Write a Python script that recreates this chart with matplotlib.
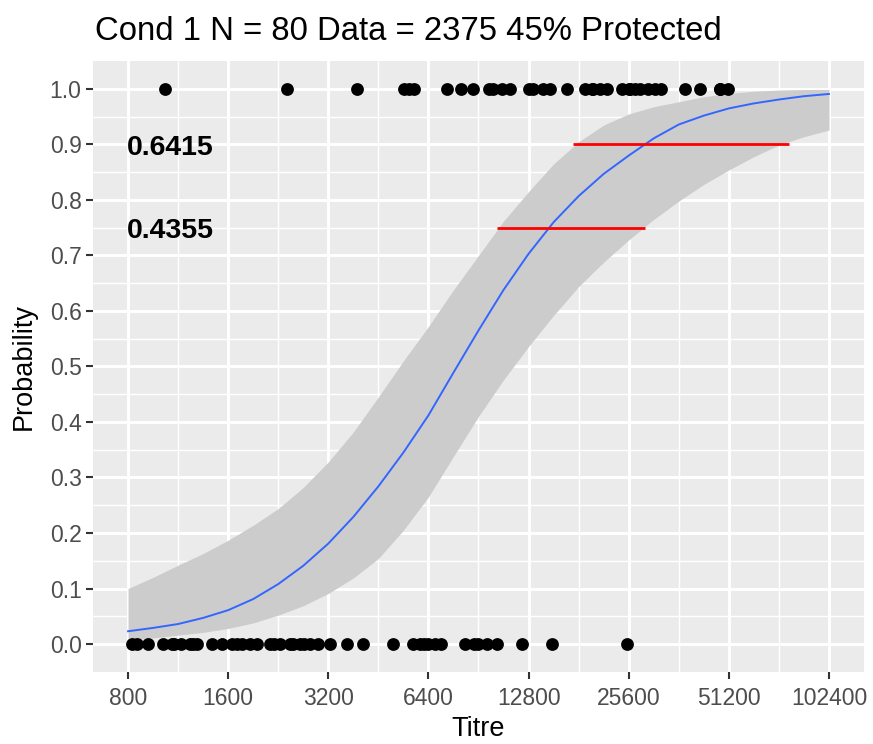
#!/usr/bin/env python
# coding: utf-8

import numpy as np
import matplotlib
matplotlib.use('Agg')
import matplotlib.pyplot as plt
from matplotlib.ticker import FixedLocator, NullFormatter

plt.rcParams['font.family'] = ['Liberation Sans', 'DejaVu Sans']

# observed titres, split by outcome
titre_protected = [1030, 2400, 3900, 5400, 5600, 5800, 7300, 8000, 8700, 9700,
                   10000, 10660, 11270, 12800, 13210, 14160, 14870, 16730, 18940, 19880,
                   20000, 21010, 22060, 24470, 25600, 25870, 26800, 27730, 29310, 30760,
                   32000, 37860, 42000, 48000, 48240, 50960]
titre_unprotected = [822, 850, 919, 1019, 1085, 1100, 1154, 1229, 1250, 1290,
                     1431, 1533, 1643, 1700, 1761, 1861, 1954, 2139, 2200, 2293,
                     2456, 2500, 2632, 2700, 2820, 2981, 3240, 3645, 4072, 5010,
                     5755, 6040, 6200, 6387, 6703, 6988, 8254, 8800, 9032, 9613,
                     10300, 12250, 15070, 25360]

# fitted curve and its confidence band
fit_titre = [800, 951, 1131, 1345, 1600, 1903, 2263, 2691, 3200, 3806,
             4525, 5382, 6400, 7611, 9051, 10764, 12800, 15222, 18102, 21527,
             25600, 30444, 36204, 43053, 51200, 60887, 72408, 86108, 102400]
fit_prob = [0.023, 0.029, 0.036, 0.047, 0.061, 0.081, 0.108, 0.141, 0.181, 0.229,
            0.284, 0.345, 0.412, 0.489, 0.565, 0.638, 0.703, 0.760, 0.807, 0.847,
            0.880, 0.911, 0.936, 0.952, 0.965, 0.974, 0.981, 0.987, 0.991]
band_lower = [0.007, 0.011, 0.016, 0.021, 0.028, 0.038, 0.052, 0.069, 0.091, 0.119,
              0.154, 0.205, 0.265, 0.338, 0.410, 0.476, 0.536, 0.592, 0.644, 0.688,
              0.728, 0.765, 0.798, 0.828, 0.854, 0.878, 0.899, 0.914, 0.926]
band_upper = [0.100, 0.120, 0.142, 0.163, 0.187, 0.214, 0.244, 0.282, 0.328, 0.382,
              0.445, 0.510, 0.572, 0.638, 0.700, 0.762, 0.815, 0.865, 0.905, 0.935,
              0.955, 0.968, 0.977, 0.986, 0.992, 0.996, 0.998, 0.999, 0.999]

# protection levels with titre intervals
level_prob = [0.9, 0.75]
level_lo = [17440, 10300]
level_hi = [77780, 28700]
level_text = ['0.6415', '0.4355']

title = 'Cond 1 N = 80 Data = 2375 45% Protected'
x_ticks = [800, 1600, 3200, 6400, 12800, 25600, 51200, 102400]
y_ticks = [0.0, 0.1, 0.2, 0.3, 0.4, 0.5, 0.6, 0.7, 0.8, 0.9, 1.0]

fig = plt.figure(figsize=(8.73, 7.44), dpi=100)
ax = fig.add_axes([93/873, 0.0971, 771/873, 0.8206])
ax.set_facecolor('#EBEBEB')

ax.set_xscale('log', base=2)
lo2, hi2 = np.log2(800), np.log2(102400)
pad = 0.05 * (hi2 - lo2)
ax.set_xlim(2**(lo2 - pad), 2**(hi2 + pad))
ax.set_ylim(-0.05, 1.05)

ax.xaxis.set_major_locator(FixedLocator(x_ticks))
ax.set_xticklabels([str(t) for t in x_ticks])
ax.xaxis.set_minor_locator(FixedLocator([t * np.sqrt(2) for t in x_ticks[:-1]]))
ax.xaxis.set_minor_formatter(NullFormatter())
ax.set_yticks(y_ticks)
ax.set_yticklabels(['%.1f' % v for v in y_ticks])
ax.yaxis.set_minor_locator(FixedLocator([v + 0.05 for v in y_ticks[:-1]]))

ax.grid(which='major', color='white', linewidth=2.1)
ax.grid(which='minor', color='white', linewidth=1.05)
ax.set_axisbelow(True)
for s in ax.spines.values():
    s.set_visible(False)
ax.tick_params(which='major', length=5.2, width=1.5, color='#333333',
               labelsize=16.5, labelcolor='#4D4D4D')
ax.tick_params(axis='x', which='major', pad=6)
ax.tick_params(axis='y', which='major', pad=3)
ax.tick_params(which='minor', length=0)

ax.fill_between(fit_titre, band_lower, band_upper, color='#CCCCCC', linewidth=0, zorder=2)
ax.plot(fit_titre, fit_prob, color='#3366FF', linewidth=1.4, zorder=3)

ax.scatter(titre_protected, np.ones(len(titre_protected)), s=85, color='black', linewidths=0, zorder=4)
ax.scatter(titre_unprotected, np.zeros(len(titre_unprotected)), s=85, color='black', linewidths=0, zorder=4)

ax.hlines(level_prob, level_lo, level_hi, color='red', linewidth=2.0, zorder=5)
for p, txt in zip(level_prob, level_text):
    ax.annotate(txt, (800, p), xytext=(-1, -7.5), textcoords='offset points',
                ha='left', va='baseline', fontsize=20.5, fontweight='bold', zorder=6)

ax.set_xlabel('Titre', fontsize=19.5, color='black', labelpad=4)
ax.set_ylabel('Probability', fontsize=19.5, color='black', labelpad=9)
fig.text(95/873, 1 - 40/744, title, fontsize=23.7, ha='left', va='baseline')

fig.savefig('out.png', dpi=100)
